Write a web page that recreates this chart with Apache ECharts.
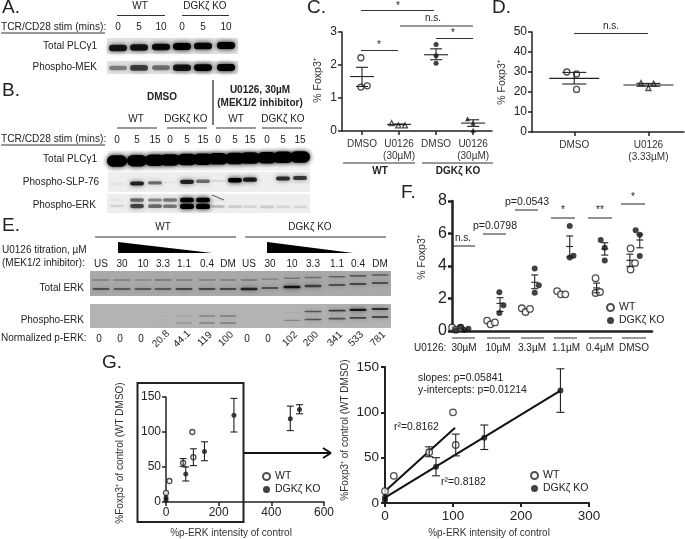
<!DOCTYPE html>
<html>
<head>
<meta charset="utf-8">
<script src="https://cdn.jsdelivr.net/npm/echarts@6/dist/echarts.min.js"></script>
<style>
html,body{margin:0;padding:0;background:#fff;}
#main{width:685px;height:539px;}
</style>
</head>
<body>
<div id="main"></div>
<script>
var FONT = '"Liberation Sans", Arial, sans-serif';
var INK = '#222';

// panel C, [x, y] (x: 1..4 = the four categories)
var cTicks = ['DMSO', 'U0126\n(30µM)', 'DMSO', 'U0126\n(30µM)'];
var cWtDmso = [[0.97, 2.22], [0.97, 1.33], [1.14, 1.37]];
var cWtU0126 = [[1.8, 0.24], [1.98, 0.17], [2.16, 0.17]];
var cKoDmso = [[3.0, 2.62], [3.0, 2.28], [3.0, 2.05]];
var cKoU0126 = [[3.85, 0.37], [4.0, 0.24], [4.0, 0.02]];
// [x, mean, low, high]
var cErr = [[1, 1.65, 1.35, 1.93], [2, 0.2, 0.19, 0.21], [3, 2.31, 2.16, 2.49], [4, 0.24, 0.14, 0.34]];

// panel D
var dTicks = ['DMSO', 'U0126\n(3.33µM)'];
var dDmso = [[0.9, 30], [1.03, 29], [1.03, 21.3]];
var dU0126 = [[1.9, 24.5], [2.07, 24.2], [2.0, 22]];
var dErr = [[1, 26.8, 24, 29.8], [2, 23.5, 22.9, 24.3]];

// panel F (x: 1..6 = the six doses)
var fTicks = ['30µM', '10µM', '3.3µM', '1.1µM', '0.4µM', 'DMSO'];
var fWt = [[0.65, 0.22], [0.76, 0.08], [0.9, 0.2], [1.68, 0.64], [1.78, 0.41], [1.91, 0.53],
  [2.7, 1.4], [2.81, 1.17], [2.94, 1.36], [3.74, 2.46], [3.85, 2.26], [3.98, 2.26],
  [4.87, 3.25], [4.87, 2.34], [5.0, 2.4], [5.9, 5.08], [6.03, 4.18], [5.9, 3.78]];
var fKo = [[0.76, 0.04], [0.9, 0.25], [1.01, 0.06], [1.13, 0.14], [2.04, 2.38], [2.16, 1.58], [2.04, 1.11],
  [3.08, 3.84], [3.2, 2.81], [3.08, 2.36], [4.11, 6.46], [4.11, 4.52], [4.22, 4.63],
  [5.02, 5.6], [5.14, 5.12], [5.14, 4.34], [6.05, 6.2], [6.17, 5.92], [6.17, 4.62]];
var fErr = [[2.06, 1.7, 1.2, 2.05], [3.08, 3.0, 2.6, 3.45], [4.11, 5.2, 4.55, 5.85],
  [4.9, 2.65, 2.35, 2.95], [5.14, 5.05, 4.67, 5.43], [5.88, 4.35, 3.98, 4.73], [6.17, 5.6, 5.12, 5.95]];

// panel G
var gWt = [[0, 13], [13, 30], [65, 56], [100, 100], [104, 64]];
var gKo = [[0, 6], [0, 3], [75, 40], [146, 72], [258, 124], [472, 119], [507, 132]];
var gKoNear = [[0, 6], [0, 3], [75, 40], [146, 72], [258, 124]];
var gWtErr = [[65, 56, 51, 62], [104, 64, 52, 76]];
var gKoErr = [[75, 40, 30, 50], [146, 72, 59, 86], [258, 124, 100, 148], [472, 119, 102, 137], [507, 132, 126, 139]];
var gKoErrNear = [[75, 40, 30, 50], [146, 72, 59, 86], [258, 124, 100, 148]];
var gWtFit = [[0, 13], [103, 83]];
var gKoFit = [[0, 6], [258, 124]];

// blots: darkness of each lane, 0..1
var aPlc = [0.85, 0.85, 0.92, 1, 0.95, 1];
var aMek = [0.4, 0.65, 0.45, 0.85, 1, 1];
var bPlc = [1, 1, 1, 1, 1, 1, 1, 1, 1, 1, 1, 1];
var bSlp = [0.05, 0.8, 0.5, 0.04, 0.8, 0.5, 0.08, 1, 0.85, 0, 0.75, 0.7];
var bErkUp = [0.04, 0.5, 0.4, 0.45, 1, 1, 0.04, 0, 0, 0, 0, 0];
var bErkLo = [0.1, 0.65, 0.5, 0.45, 1, 1, 0.18, 0.14, 0.1, 0.14, 0.1, 0.1];
var eTotalUp = [0.25, 0.25, 0.2, 0.3, 0.25, 0.25, 0.25, 0.3, 0.25, 0.3, 0.35, 0.4, 0.45, 0.45];
var eTotalLo = [0.5, 0.45, 0.45, 0.45, 0.55, 0.55, 0.55, 0.75, 0.5, 0.85, 0.6, 0.5, 0.55, 0.5];
var ePhosUp = [0, 0, 0, 0.02, 0.12, 0.25, 0.3, 0, 0, 0.04, 0.5, 0.65, 0.85, 0.7];
var ePhosLo = [0, 0, 0, 0.03, 0.18, 0.28, 0.3, 0, 0, 0.25, 0.5, 0.55, 0.6, 0.55];

// tick text rows
var stimA = ['0', '5', '10', '0', '5', '10'];
var stimB = ['0', '5', '15', '0', '5', '15', '0', '5', '15', '0', '5', '15'];
var titration = ['US', '30', '10', '3.3', '1.1', '0.4', 'DM', 'US', '30', '10', '3.3', '1.1', '0.4', 'DM'];
var normErk = ['0', '0', '0', '20.8', '44.1', '119', '100', '0', '0', '102', '200', '341', '533', '781'];

var aLanes = [118, 139, 161, 182, 203, 226];
var bLanes = [117, 137, 155, 170, 187, 203, 218, 235, 250, 267, 283, 300];
var eLanes = [101, 122, 143, 163, 184, 207, 228, 249, 270, 292, 313, 337, 358, 380];

var gfx = [];

function txt(x, y, s, size, o) {
  o = o || {};
  gfx.push({
    type: 'text', x: x, y: y, rotation: o.rot || 0, z: 50,
    style: {
      text: s, fill: o.color || INK, align: o.align || 'left', verticalAlign: 'middle',
      font: (o.bold ? 'bold ' : '') + size + 'px ' + FONT
    }
  });
}
function seg(x1, y1, x2, y2, w, c) {
  gfx.push({
    type: 'line', z: 50, shape: {x1: x1, y1: y1, x2: x2, y2: y2},
    style: {stroke: c || '#333', lineWidth: w || 1}
  });
}
function box(x, y, w, h, c) {
  gfx.push({type: 'rect', z: 1, shape: {x: x, y: y, width: w, height: h}, style: {fill: c}});
}
// one row of bands on a blot; y1 differs from y0 when the gel runs tilted
function bands(lanes, vals, y0, y1, w, h) {
  for (var i = 0; i < lanes.length; i++) {
    if (!vals[i]) continue;
    var y = y0 + (y1 - y0) * i / (lanes.length - 1);
    var bh = h * (0.55 + 0.6 * vals[i]);
    var c = 'rgba(0,0,0,' + vals[i] + ')';
    gfx.push({
      type: 'rect', z: 2,
      shape: {x: lanes[i] - w / 2, y: y - bh / 2, width: w, height: bh, r: bh / 2},
      style: {fill: c, shadowBlur: 5, shadowColor: c}
    });
  }
}

// panel letters
txt(2, 8, 'A.', 19); txt(2, 91, 'B.', 19); txt(307, 8, 'C.', 19); txt(492, 8, 'D.', 19);
txt(2, 226, 'E.', 19); txt(401, 193, 'F.', 19); txt(102, 363, 'G.', 19);

// A
txt(140, 6, 'WT', 10, {align: 'center'}); seg(117, 15.5, 165, 15.5);
txt(205, 6, 'DGKζ KO', 10, {align: 'center'}); seg(182, 15.5, 229, 15.5);
txt(1, 27, 'TCR/CD28 stim (mins):', 10.2); seg(1, 33, 105, 33);
stimA.forEach(function (s, i) { txt(aLanes[i], 27, s, 10, {align: 'center'}); });
box(107, 38, 131, 16, '#e2e2e2');
box(107, 61, 131, 13, '#e2e2e2');
bands(aLanes, aPlc, 48, 45.5, 18, 6);
bands(aLanes, aMek, 68, 67.5, 18, 6);
txt(97, 46, 'Total PLCγ1', 10, {align: 'right'});
txt(97, 67, 'Phospho-MEK', 10, {align: 'right'});

// B
txt(162, 97, 'DMSO', 10, {align: 'center', bold: true});
seg(213, 80, 213, 125, 1.2, '#222');
txt(260, 90, 'U0126, 30µM', 10, {align: 'center', bold: true});
txt(260, 103, '(MEK1/2 inhibitor)', 10, {align: 'center', bold: true});
txt(136, 119, 'WT', 10, {align: 'center'}); seg(117, 128, 157, 128);
txt(186, 119, 'DGKζ KO', 10, {align: 'center'}); seg(167, 128, 207, 128);
txt(236, 119, 'WT', 10, {align: 'center'}); seg(216, 128, 256, 128);
txt(283, 119, 'DGKζ KO', 10, {align: 'center'}); seg(262, 128, 302, 128);
txt(1, 139, 'TCR/CD28 stim (mins):', 10.2); seg(1, 145, 105, 145);
stimB.forEach(function (s, i) { txt(bLanes[i], 140, s, 10, {align: 'center'}); });
box(108, 151, 202, 20, '#f2f2f2');
box(108, 172, 202, 20, '#eeeeee');
box(107, 194, 203, 19, '#eeeeee');
bands(bLanes, bPlc, 161, 157, 20, 10);
bands(bLanes, bSlp, 184, 178, 14, 4);
bands(bLanes, bErkUp, 200, 200, 14, 4);
bands(bLanes, bErkLo, 206, 207, 14, 4.5);
seg(212, 195, 224, 200, 1, '#555');
txt(97, 159, 'Total PLCγ1', 10, {align: 'right'});
txt(99, 182, 'Phospho-SLP-76', 10, {align: 'right'});
txt(96, 205, 'Phospho-ERK', 10, {align: 'right'});

// E
txt(163, 227, 'WT', 10, {align: 'center'}); seg(95, 237, 236, 237);
txt(310, 227, 'DGKζ KO', 10, {align: 'center'}); seg(245, 237, 386, 237);
txt(2, 250, 'U0126 titration, µM', 10);
txt(2, 263, '(MEK1/2 inhibitor):', 10);
gfx.push({type: 'polygon', z: 50, shape: {points: [[118, 242], [118, 253], [212, 253]]}, style: {fill: '#000'}});
gfx.push({type: 'polygon', z: 50, shape: {points: [[267, 242], [267, 253], [353, 253]]}, style: {fill: '#000'}});
titration.forEach(function (s, i) { txt(eLanes[i], 264, s, 10, {align: 'center'}); });
box(90, 271, 301, 25, '#a9a9a9');
box(90, 304, 301, 24, '#b3b3b3');
bands(eLanes.slice(0, 7), eTotalUp.slice(0, 7), 280, 280, 17, 2);
bands(eLanes.slice(7), eTotalUp.slice(7), 280, 275, 17, 2);
bands(eLanes.slice(0, 7), eTotalLo.slice(0, 7), 289, 289, 17, 2.5);
bands(eLanes.slice(7), eTotalLo.slice(7), 289, 283, 17, 2.5);
bands(eLanes.slice(0, 7), ePhosUp.slice(0, 7), 316, 316, 16, 2);
bands(eLanes.slice(7), ePhosUp.slice(7), 314, 309, 17, 2);
bands(eLanes.slice(0, 7), ePhosLo.slice(0, 7), 323, 323, 16, 2);
bands(eLanes.slice(7), ePhosLo.slice(7), 322, 317, 17, 2);
txt(84, 288, 'Total ERK', 10, {align: 'right'});
txt(84, 320, 'Phospho-ERK', 10, {align: 'right'});
txt(1, 338, 'Normalized p-ERK:', 10);
normErk.forEach(function (s, i) {
  txt(eLanes[i] - 2, 339, s, 10, {align: 'center', rot: s.length > 1 ? Math.PI / 4 : 0});
});

// C annotations
seg(361, 10.5, 434, 10.5); txt(398, 6, '*', 10, {align: 'center'});
seg(400, 26, 473, 26); txt(433, 18, 'n.s.', 10, {align: 'center'});
seg(436, 38.5, 473, 38.5); txt(453, 33, '*', 10, {align: 'center'});
seg(361, 50.5, 398, 50.5); txt(379, 45, '*', 10, {align: 'center'});
txt(318, 80, '% Foxp3⁺', 10.5, {align: 'center', rot: Math.PI / 2, color: '#333'});
seg(343, 163, 415, 163); seg(422, 163, 493, 163);
txt(380, 171, 'WT', 10, {align: 'center', bold: true});
txt(458, 171, 'DGKζ KO', 10, {align: 'center', bold: true});

// D annotations
seg(574, 33.5, 648, 33.5); txt(611, 26, 'n.s.', 10, {align: 'center'});
txt(502, 82, '% Foxp3⁺', 10.5, {align: 'center', rot: Math.PI / 2, color: '#333'});

// F annotations
txt(422, 257, '% Foxp3⁺', 10.5, {align: 'center', rot: Math.PI / 2, color: '#333'});
seg(452, 246, 475, 246, 1, '#222'); txt(463, 238, 'n.s.', 10, {align: 'center'});
seg(483, 234, 506, 234, 1, '#222'); txt(495, 226, 'p=0.0798', 10.5, {align: 'center'});
seg(515, 210, 538, 210, 1, '#222'); txt(527, 202, 'p=0.0543', 10.5, {align: 'center'});
seg(551, 218, 575, 218, 1, '#222'); txt(563, 210, '*', 10, {align: 'center'});
seg(588, 218, 612, 218, 1, '#222'); txt(600, 210, '**', 10, {align: 'center'});
seg(621, 204, 645, 204, 1, '#222'); txt(633, 197, '*', 10, {align: 'center'});
[[452, 475], [487, 510], [521, 544], [554, 577], [589, 612], [622, 646]].forEach(function (p) {
  seg(p[0], 338, p[1], 338, 1, '#333');
});
txt(414, 348, 'U0126:', 10);

// G annotations
gfx.push({type: 'rect', z: 50, shape: {x: 137.5, y: 383, width: 106, height: 139}, style: {fill: 'none', stroke: '#222', lineWidth: 2}});
seg(244, 453, 331, 453, 2, '#111');
seg(323, 448, 331, 453, 2, '#111');
seg(323, 458, 331, 453, 2, '#111');
txt(120, 453, '%Foxp3⁺ of control (WT DMSO)', 10, {align: 'center', rot: Math.PI / 2, color: '#333'});
txt(231, 533, '%p-ERK intensity of control', 10, {align: 'center', color: '#333'});
txt(345, 430, '%Foxp3⁺ of control (WT DMSO)', 10, {align: 'center', rot: Math.PI / 2, color: '#333'});
txt(489, 533, '%p-ERK intensity of control', 10, {align: 'center', color: '#333'});
txt(418, 378, 'slopes: p=0.05841', 10.4);
txt(418, 390, 'y-intercepts: p=0.01214', 10.4);
txt(394, 427, 'r²=0.8162', 10.4);
txt(441, 482, 'r²=0.8182', 10.4);

// one grid with its two axes
var grids = [], xAxes = [], yAxes = [];
function panel(g, x, y) {
  grids.push({left: g[0], top: g[1], width: g[2], height: g[3]});
  var lw = g[4], ls = {color: '#222', width: lw};
  xAxes.push(Object.assign({
    gridIndex: grids.length - 1, type: 'value', splitLine: {show: false},
    axisLine: {show: true, onZero: false, lineStyle: ls},
    axisTick: {show: true, length: 4, lineStyle: ls}
  }, x));
  yAxes.push(Object.assign({
    gridIndex: grids.length - 1, type: 'value', splitLine: {show: false},
    axisLine: {show: true, lineStyle: ls},
    axisTick: {show: true, length: 4, lineStyle: ls}
  }, y));
}
function nameTick(list) {
  return function (v) { return list[v - 1]; };
}
var catLabel = {fontFamily: FONT, fontSize: 10, color: '#333', lineHeight: 12, margin: 7, hideOverlap: false};

panel([342, 32, 150, 99, 1.5], {
  min: 0.46, max: 4.51, axisTick: {show: true, length: 4, customValues: [1, 2, 3, 4], lineStyle: {color: '#222', width: 1.5}},
  axisLabel: Object.assign({customValues: [1, 2, 3, 4], formatter: nameTick(cTicks)}, catLabel)
}, {min: 0, max: 3, interval: 1, axisLabel: {fontFamily: FONT, fontSize: 12, color: INK, margin: 5}});

panel([532, 32, 152, 100, 1.5], {
  min: 0.43, max: 2.48, axisTick: {show: true, length: 4, customValues: [1, 2], lineStyle: {color: '#222', width: 1.5}},
  axisLabel: Object.assign({customValues: [1, 2], formatter: nameTick(dTicks)}, catLabel)
}, {min: 0, max: 50, interval: 10, axisLabel: {fontFamily: FONT, fontSize: 12, color: INK, margin: 5}});

panel([452, 201, 200, 130, 2.5], {
  min: 0.647, max: 6.53, axisTick: {show: false},
  axisLabel: {customValues: [1, 2, 3, 4, 5, 6], formatter: nameTick(fTicks), fontFamily: FONT, fontSize: 10, color: INK, margin: 12, hideOverlap: false}
}, {min: 0, max: 8, interval: 2, axisLabel: {fontFamily: FONT, fontSize: 16, color: INK, margin: 5}});

panel([166, 397, 158, 105, 1.5], {
  min: 0, max: 600, interval: 200, axisLabel: {fontFamily: FONT, fontSize: 12, color: INK, margin: 5}
}, {min: 0, max: 150, interval: 50, axisLabel: {fontFamily: FONT, fontSize: 12, color: INK, margin: 5}});

panel([385, 367, 204, 136, 2], {
  min: 0, max: 300, interval: 100, axisLabel: {fontFamily: FONT, fontSize: 13.5, color: INK, margin: 6}
}, {min: 0, max: 150, interval: 50, axisLabel: {fontFamily: FONT, fontSize: 13.5, color: INK, margin: 6}});

function pts(name, idx, data, symbol, filled, size) {
  return {
    name: name, type: 'scatter', xAxisIndex: idx, yAxisIndex: idx, data: data, clip: false,
    symbol: symbol, symbolSize: size, z: 5,
    itemStyle: filled ? {color: '#111'} : {color: '#fff', borderColor: '#222', borderWidth: 1.3}
  };
}
// whiskers with caps, mean drawn as a wider bar when meanPx is set
function errs(idx, data, capPx, meanPx, w) {
  return {
    type: 'custom', xAxisIndex: idx, yAxisIndex: idx, data: data, clip: false, z: 6,
    encode: {x: 0, y: [1, 2, 3]},
    renderItem: function (p, api) {
      var x = api.value(0);
      var m = api.coord([x, api.value(1)]), lo = api.coord([x, api.value(2)]), hi = api.coord([x, api.value(3)]);
      var st = {stroke: '#222', lineWidth: w};
      var kids = [
        {type: 'line', shape: {x1: lo[0], y1: lo[1], x2: hi[0], y2: hi[1]}, style: st},
        {type: 'line', shape: {x1: lo[0] - capPx, y1: lo[1], x2: lo[0] + capPx, y2: lo[1]}, style: st},
        {type: 'line', shape: {x1: hi[0] - capPx, y1: hi[1], x2: hi[0] + capPx, y2: hi[1]}, style: st}
      ];
      if (meanPx) kids.push({type: 'line', shape: {x1: m[0] - meanPx, y1: m[1], x2: m[0] + meanPx, y2: m[1]}, style: st});
      return {type: 'group', children: kids};
    }
  };
}
function fit(idx, data) {
  return {
    type: 'line', xAxisIndex: idx, yAxisIndex: idx, data: data, symbol: 'none', z: 4,
    lineStyle: {color: '#111', width: 2}
  };
}

var series = [
  pts('c wt dmso', 0, cWtDmso, 'circle', false, 6),
  pts('c wt u0126', 0, cWtU0126, 'triangle', false, 5),
  pts('c ko dmso', 0, cKoDmso, 'circle', true, 5),
  pts('c ko u0126', 0, cKoU0126, 'triangle', true, 5),
  errs(0, cErr, 6, 12, 1.1),
  pts('d dmso', 1, dDmso, 'circle', false, 6),
  pts('d u0126', 1, dU0126, 'triangle', false, 5),
  errs(1, dErr, 12, 25, 1.1),
  pts('WT', 2, fWt, 'circle', false, 6.5),
  pts('DGKζ KO', 2, fKo, 'circle', true, 6),
  errs(2, fErr, 3.5, 3.5, 1.1),
  pts('WT', 3, gWt, 'circle', false, 5),
  pts('DGKζ KO', 3, gKo, 'circle', true, 5),
  errs(3, gWtErr, 3.5, 0, 1.1),
  errs(3, gKoErr, 3.5, 0, 1.1),
  pts('WT', 4, gWt, 'circle', false, 6.5),
  pts('DGKζ KO', 4, gKoNear, 'circle', true, 6),
  errs(4, gWtErr, 4, 0, 1.1),
  errs(4, gKoErrNear, 4, 0, 1.1),
  fit(4, gWtFit),
  fit(4, gKoFit)
];

function legendAt(left, top, size) {
  return {
    left: left, top: top, orient: 'vertical', data: ['WT', 'DGKζ KO'], selectedMode: false,
    icon: 'circle', itemWidth: size, itemHeight: size, itemGap: 2, padding: 0,
    textStyle: {fontFamily: FONT, fontSize: 10.5, color: INK, padding: [0, 0, 0, 0], lineHeight: 11}
  };
}

var myChart = echarts.init(document.getElementById('main'), null, {renderer: 'canvas'});
myChart.setOption({
  animation: false,
  backgroundColor: '#fff',
  grid: grids,
  xAxis: xAxes,
  yAxis: yAxes,
  legend: [legendAt(606, 302, 7), legendAt(262, 471, 7), legendAt(530, 470, 7)],
  series: series,
  graphic: {elements: gfx}
});
</script>
</body>
</html>
